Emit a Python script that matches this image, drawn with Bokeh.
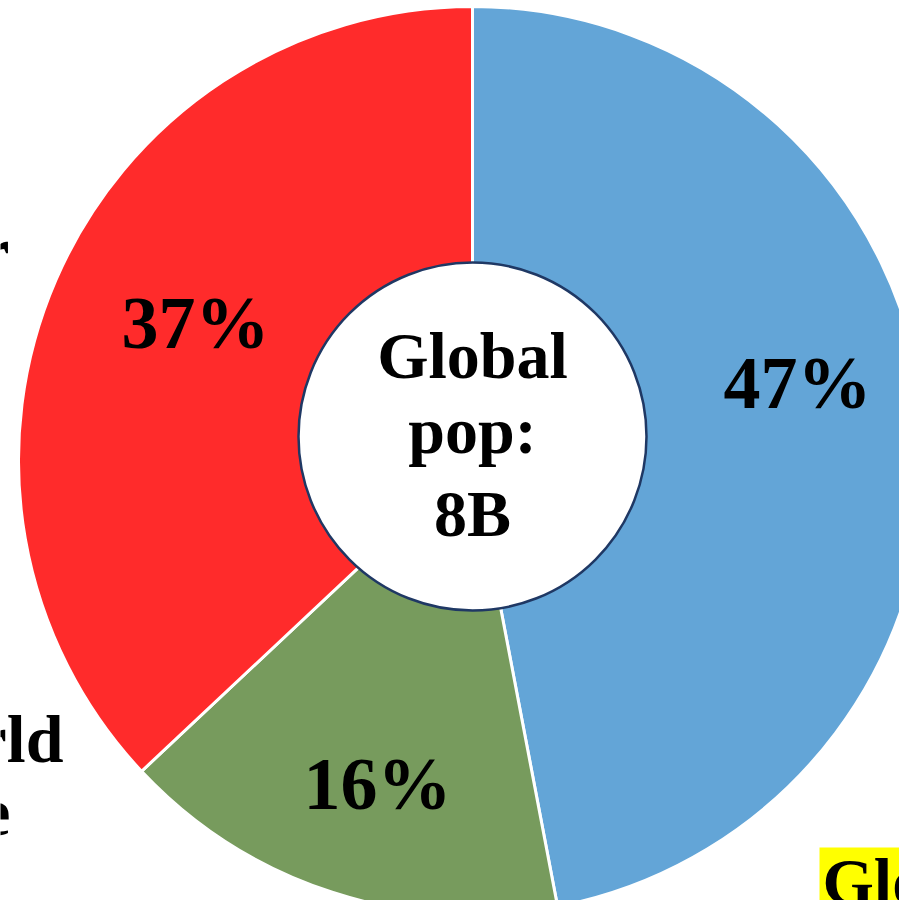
import numpy as np
from bokeh.plotting import figure
from bokeh.models import Range1d, ColumnDataSource
from bokeh.core.properties import value
from bokeh.embed import file_html
from bokeh.resources import INLINE

# ---------------- data ----------------
categories = ["Group A", "Group B", "Group C"]
shares = [47, 16, 37]                       # percent of global population
colors = ["#63A5D7", "#779B5D", "#FF2B2B"]
center_lines = ["Global", "pop:", "8B"]

# ---------------- layout (reference pixel space) ----------------
PW, PH = 899, 900
H = 916

def sy(y_screen):
    return H - y_screen

TXT_FIX = 25                                  # baseline correction (px)

def ty(baseline_screen):
    return sy(baseline_screen - TXT_FIX)

CX, CY = 472, sy(460)                        # donut centre
R_OUT = 454
HOLE_X, HOLE_Y, HOLE_R = 472, sy(436), 174

p = figure(width=PW, height=PH, x_range=Range1d(0, PW), y_range=Range1d(H - PH, H),
           output_backend="svg", toolbar_location=None, min_border=0,
           background_fill_color="white", border_fill_color="white")
p.axis.visible = False
p.grid.visible = False
p.outline_line_color = None

frac = np.array(shares, dtype=float) / sum(shares)
cum = np.concatenate([[0.0], np.cumsum(frac)])
start = np.pi / 2 - 2 * np.pi * cum[:-1]
end = np.pi / 2 - 2 * np.pi * cum[1:]

src = ColumnDataSource(dict(cat=categories, start=start, end=end, color=colors,
                            x=[CX] * 3, y=[CY] * 3))
p.wedge(x="x", y="y", radius=R_OUT, start_angle="start", end_angle="end",
        direction="clock", fill_color="color", line_color="white",
        line_width=3, source=src)

# centre hole
p.circle(x=[HOLE_X], y=[HOLE_Y], radius=HOLE_R, fill_color="white",
         line_color="#1F3864", line_width=2.5)

FONT = value("Liberation Serif")

# percentage labels (anchor positions in reference pixels)
label_pos = [(797, 407), (377, 808), (195, 347)]
p.text(x=[q[0] for q in label_pos], y=[ty(q[1]) for q in label_pos],
       text=[f"{v}%" for v in shares], text_font=FONT, text_font_style="bold",
       text_font_size="74px", text_align="center",
       text_baseline="alphabetic", text_color="black")

# centre text
center_baselines = [380, 455, 538]
p.text(x=[HOLE_X] * 3, y=[ty(b) for b in center_baselines], text=center_lines,
       text_font=FONT, text_font_style="bold", text_font_size="66px",
       text_align="center", text_baseline="alphabetic", text_color="black")

# partially visible side texts
p.text(x=[9, 63, 10], y=[ty(275), ty(763), ty(837)], text=["r", "rld", "e"],
       text_font=FONT, text_font_style="bold", text_font_size="68px",
       text_align="right", text_baseline="alphabetic", text_color="black")

# highlighted corner text
p.quad(left=[819], right=[PW], bottom=[sy(916)], top=[sy(847)],
       fill_color="#FFFF00", line_color=None)
p.text(x=[822], y=[ty(906)], text=["Glo"], text_font=FONT,
       text_font_style="bold", text_font_size="66px",
       text_align="left", text_baseline="alphabetic", text_color="black")

open("out.html", "w").write(file_html(p, INLINE))
